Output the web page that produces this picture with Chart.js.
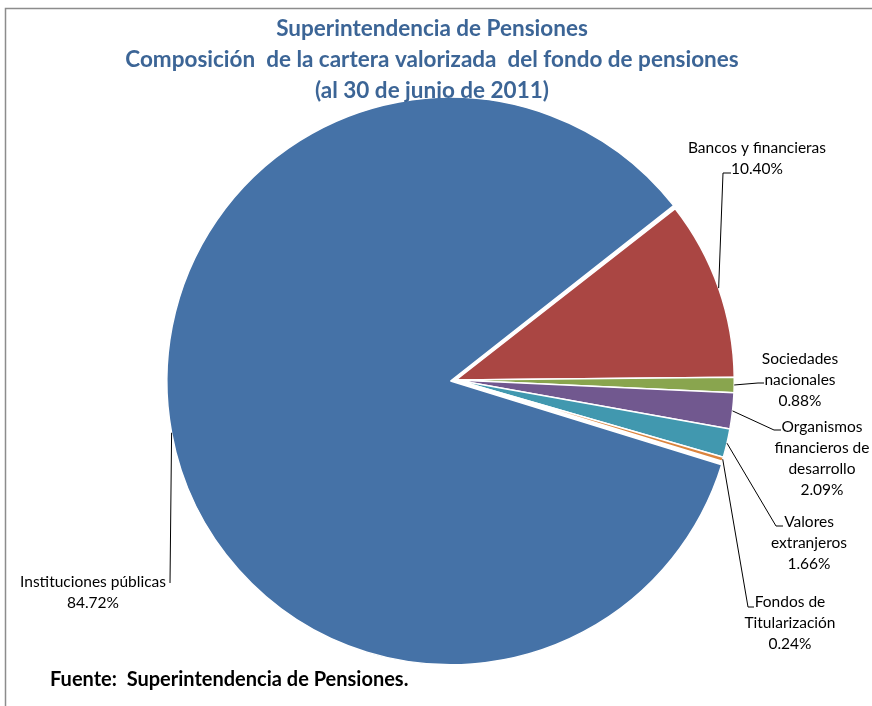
<!DOCTYPE html>
<html>
<head>
<meta charset="utf-8">
<script src="https://cdn.jsdelivr.net/npm/chart.js@4.4.0/dist/chart.umd.min.js"></script>
<style>
  html, body { margin: 0; padding: 0; background: #fff; }
</style>
</head>
<body>
<canvas id="myChart" width="872" height="706"></canvas>
<script>
// datos del gráfico
const categories = [
  ['Bancos y financieras'],
  ['Sociedades', 'nacionales'],
  ['Organismos', 'financieros de', 'desarrollo'],
  ['Valores', 'extranjeros'],
  ['Fondos de', 'Titularización'],
  ['Instituciones públicas']
];
const shares = [10.40, 0.88, 2.09, 1.66, 0.24, 84.72];
const sliceColors = ['#AA4643', '#89A54E', '#71588F', '#4198AF', '#DB843D', '#4572A7'];
const titleLines = [
  'Superintendencia de Pensiones',
  'Composición  de la cartera valorizada  del fondo de pensiones',
  '(al 30 de junio de 2011)'
];
const sourceNote = 'Fuente:  Superintendencia de Pensiones.';

// ubicación de etiquetas (codo de la línea guía y texto)
const labelPlaces = [
  { elbow: [723, 173], end: [731, 173], x: 757, y: 148 },
  { elbow: [758, 383], end: [764, 383], x: 800, y: 359 },
  { elbow: [774, 430], end: [781, 430], x: 822, y: 427 },
  { elbow: [776, 526], end: [783, 526], x: 809, y: 522 },
  { elbow: [748, 607], end: [754, 607], x: 790, y: 602 },
  { elbow: [170, 583], end: [170, 583], x: 93, y: 582 }
];

const frameAndText = {
  id: 'frameAndText',
  beforeDraw(chart) {
    const ctx = chart.ctx;
    ctx.save();
    ctx.fillStyle = '#fff';
    ctx.fillRect(0, 0, chart.width, chart.height);
    ctx.strokeStyle = '#8c8c8c';
    ctx.lineWidth = 1.5;
    ctx.beginPath();
    ctx.moveTo(5.5, chart.height);
    ctx.lineTo(5.5, 8.5);
    ctx.lineTo(chart.width, 8.5);
    ctx.stroke();

    ctx.fillStyle = '#000';
    ctx.font = 'bold 20px Lato';
    ctx.textAlign = 'left';
    ctx.textBaseline = 'middle';
    ctx.fillText(sourceNote, 50, 680);
    ctx.restore();
  },
  afterDatasetsDraw(chart) {
    const ctx = chart.ctx;
    const arcs = chart.getDatasetMeta(0).data;
    ctx.save();
    ctx.strokeStyle = '#000';
    ctx.fillStyle = '#000';
    ctx.lineWidth = 1;
    ctx.font = '15.5px Lato';
    ctx.textAlign = 'center';
    ctx.textBaseline = 'middle';
    arcs.forEach((arc, i) => {
      const p = arc.getProps(['x', 'y', 'startAngle', 'endAngle', 'outerRadius', 'circumference'], true);
      const mid = (p.startAngle + p.endAngle) / 2;
      const off = (arc.options.offset || 0) / 4;
      const fix = 1 - Math.sin(Math.min(Math.PI, p.circumference || 0));
      const shift = off + off * fix;
      const ax = p.x + Math.cos(mid) * (shift + p.outerRadius);
      const ay = p.y + Math.sin(mid) * (shift + p.outerRadius);
      const pl = labelPlaces[i];
      ctx.beginPath();
      ctx.moveTo(ax, ay);
      ctx.lineTo(pl.elbow[0], pl.elbow[1]);
      ctx.lineTo(pl.end[0], pl.end[1]);
      ctx.stroke();
      const lines = categories[i].concat(shares[i].toFixed(2) + '%');
      lines.forEach((t, k) => ctx.fillText(t, pl.x, pl.y + k * 21));
    });

    // título encima del pastel
    ctx.fillStyle = '#3C6596';
    ctx.font = 'bold 22.5px Lato';
    titleLines.forEach((t, i) => ctx.fillText(t, 432, 29 + i * 31));
    ctx.restore();
  }
};

const ctx = document.getElementById('myChart');
new Chart(ctx, {
  type: 'pie',
  data: {
    labels: categories,
    datasets: [{
      data: shares,
      backgroundColor: sliceColors,
      borderColor: '#fff',
      borderWidth: 1.5,
      hoverBorderWidth: 1.5,
      offset: [0, 0, 0, 0, 0, 22],
      hoverOffset: 0
    }]
  },
  options: {
    responsive: false,
    animation: false,
    rotation: 52,
    layout: { padding: { left: 166, right: 126, top: 90, bottom: 36 } },
    plugins: {
      legend: { display: false },
      tooltip: { enabled: false }
    },
    events: []
  },
  plugins: [frameAndText]
});
</script>
</body>
</html>
